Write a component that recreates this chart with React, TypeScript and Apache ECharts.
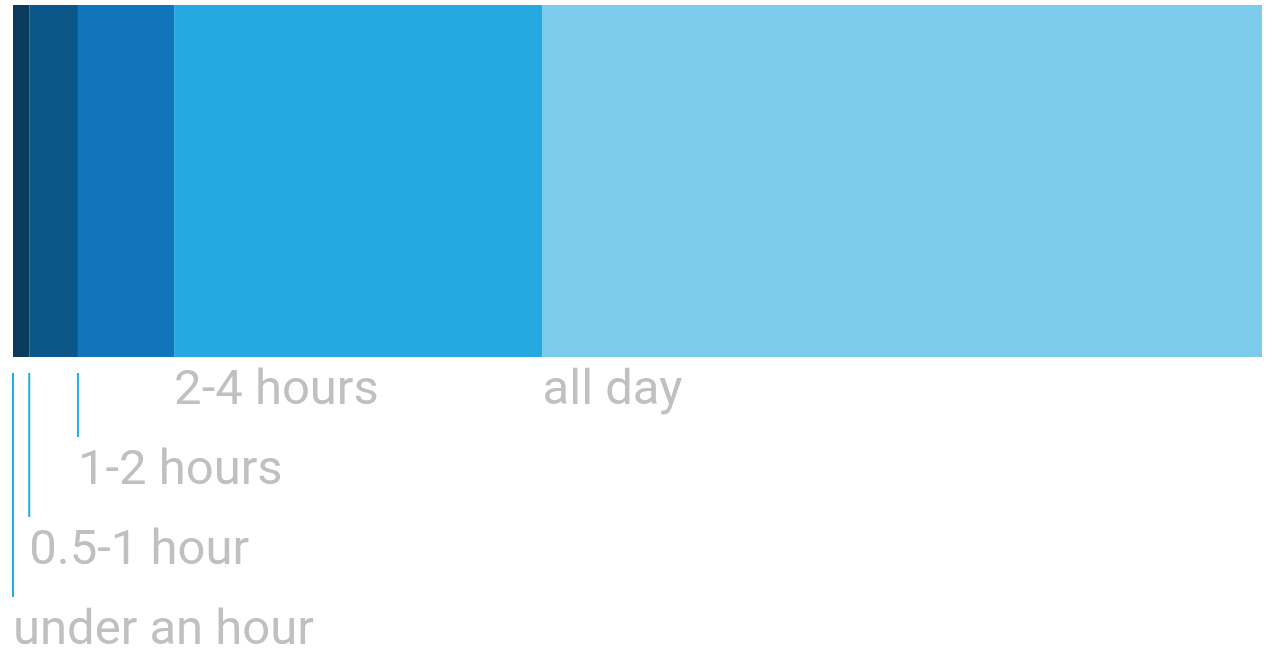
import React, { useEffect, useRef } from "react";
import * as echarts from "echarts";

const categories = ["under an hour", "0.5-1 hour", "1-2 hours", "2-4 hours", "all day"];
const values = [1.3, 3.9, 7.7, 29.5, 57.6];
const colors = ["#0a3a5c", "#0c5789", "#1075bb", "#25a9e1", "#7ccbed"];
const labelRows = [3, 2, 1, 0, 0];
const hasLeader = [true, true, true, false, false];

export default function App() {
  const ref = useRef<HTMLDivElement>(null);
  useEffect(() => {
    const chart = echarts.init(ref.current!, null, { renderer: "svg" });
    const total = values.reduce((a, b) => a + b, 0);
    chart.setOption({
      animation: false,
      grid: { left: 13, right: 8, top: 5, height: 352, containLabel: false },
      xAxis: { type: "value", min: 0, max: total, show: false },
      yAxis: { type: "category", data: [""], show: false },
      series: categories.map((c, i) => ({
        name: c,
        type: "bar",
        stack: "total",
        barWidth: "100%",
        data: [values[i]],
        itemStyle: { color: colors[i], borderWidth: 0 },
        emphasis: { disabled: true },
      })),
    });
    const graphic: any[] = [];
    let cum = 0;
    const rowCenter0 = 387;
    const rowStep = 80;
    categories.forEach((c, i) => {
      const x = chart.convertToPixel({ xAxisIndex: 0 }, cum) as number;
      const yText = rowCenter0 + labelRows[i] * rowStep;
      if (hasLeader[i]) {
        graphic.push({
          type: "line",
          shape: { x1: x, y1: 373, x2: x, y2: yText - 30 },
          style: { stroke: "#23ace6", lineWidth: 2 },
          silent: true,
        });
      }
      graphic.push({
        type: "text",
        x: x,
        y: yText,
        style: {
          text: c,
          fill: "#c0c0c0",
          fontSize: 49,
          lineHeight: 40,
          fontFamily: "Roboto",
          textAlign: "left",
          textVerticalAlign: "middle",
        },
        silent: true,
      });
      cum += values[i];
    });
    chart.setOption({ graphic });
    return () => chart.dispose();
  }, []);
  return (
    <div
      ref={ref}
      style={{ position: "absolute", left: 0, top: 0, width: 1270, height: 648 }}
    />
  );
}
